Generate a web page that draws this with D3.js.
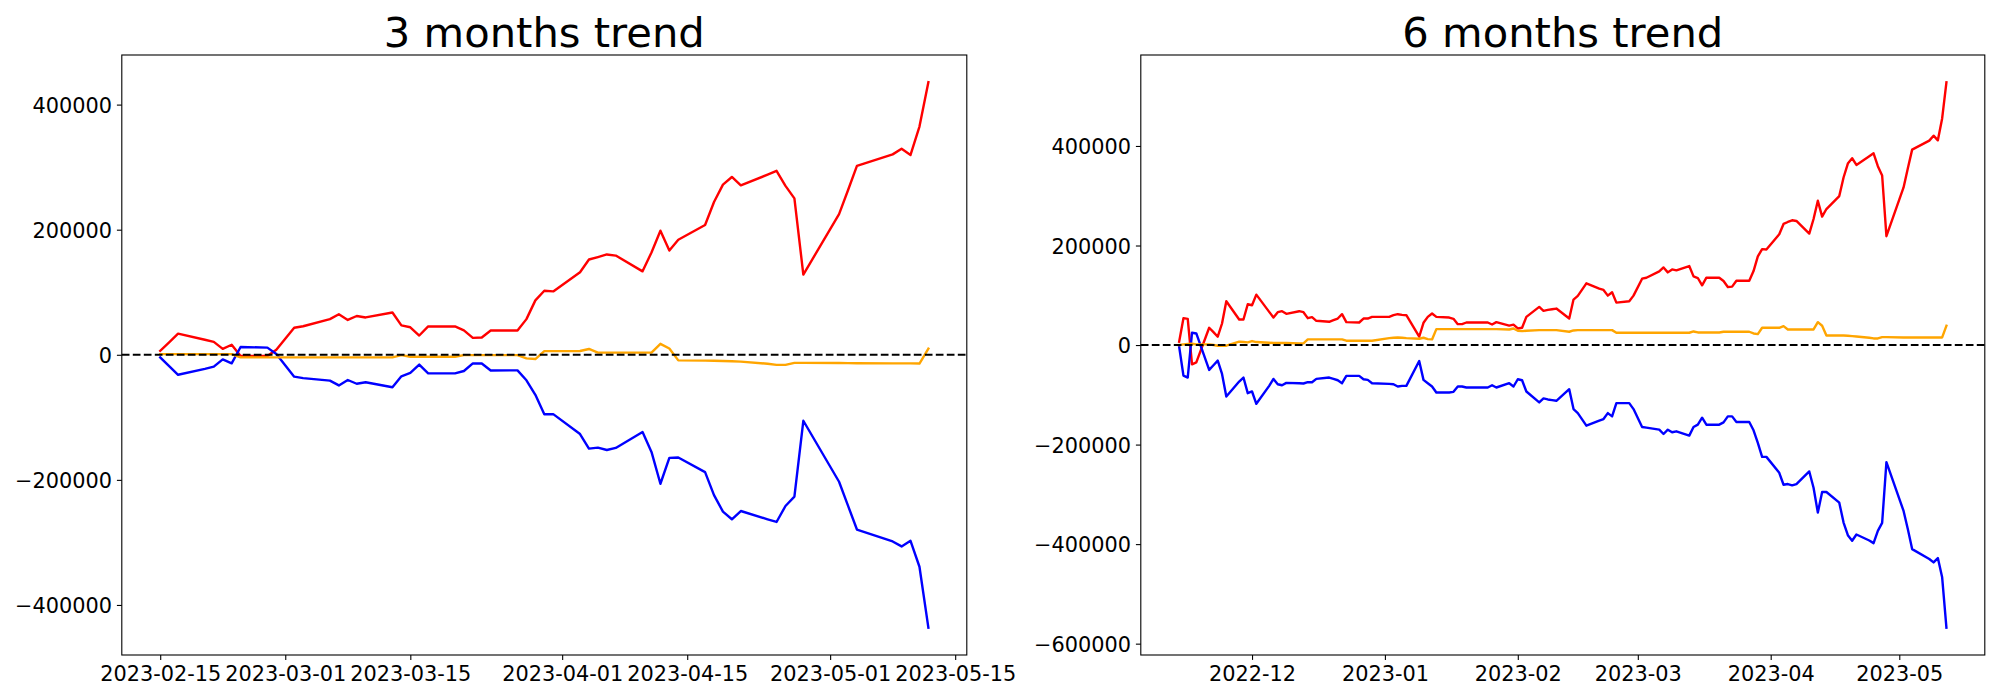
<!DOCTYPE html>
<html>
<head>
<meta charset="utf-8">
<script src="https://cdn.jsdelivr.net/npm/d3@7"></script>
<style>
  html, body { margin: 0; padding: 0; background: #ffffff; }
  svg { display: block; }
  text { font-family: "DejaVu Sans", sans-serif; fill: #000; }
</style>
</head>
<body>
<svg id="chart" width="2000" height="700"></svg>
<script>
// ---------------- 3 months data ----------------
const dates3m = ["2023-02-15","2023-02-16","2023-02-17","2023-02-20","2023-02-21","2023-02-22","2023-02-23","2023-02-24","2023-02-27","2023-02-28",
"2023-03-02","2023-03-03","2023-03-06","2023-03-07","2023-03-08","2023-03-09","2023-03-10","2023-03-13","2023-03-14","2023-03-15","2023-03-16","2023-03-17","2023-03-20","2023-03-21","2023-03-22","2023-03-23","2023-03-24","2023-03-27","2023-03-28","2023-03-29","2023-03-30","2023-03-31",
"2023-04-03","2023-04-04","2023-04-05","2023-04-06","2023-04-07","2023-04-10","2023-04-11","2023-04-12","2023-04-13","2023-04-14","2023-04-17","2023-04-18","2023-04-19","2023-04-20","2023-04-21","2023-04-24","2023-04-25","2023-04-26","2023-04-27","2023-04-28",
"2023-05-02","2023-05-03","2023-05-04","2023-05-08","2023-05-09","2023-05-10","2023-05-11","2023-05-12"];
const red3m = [6400,20000,33800,24000,20700,9500,16000,-2000,-2000,8000,
43300,45600,57000,64700,55700,62000,59700,67600,47000,44000,30800,45300,45300,39000,27000,27600,38800,38800,57000,87000,102300,101300,
132000,152300,156200,160400,158600,133400,163600,198400,166600,183800,207500,244300,272000,284300,270800,288000,294100,270000,250100,128200,
224900,263100,302000,320400,329300,319500,364900,435700];
const blue3m = [-4200,-18000,-32000,-22500,-19000,-7400,-13700,12500,11400,1100,
-35000,-37300,-41300,-49000,-40300,-46300,-44000,-51900,-34400,-29100,-15600,-29700,-29700,-25900,-13700,-14000,-25100,-24900,-40800,-64100,-95100,-94900,
-126700,-150000,-148500,-152200,-148900,-123500,-155300,-206200,-164800,-164300,-187700,-224300,-250800,-263000,-249800,-263000,-267300,-241800,-226900,-105500,
-203000,-241200,-279400,-298500,-306400,-297500,-338900,-436400];
const orange3m = [1100,1100,1100,1100,1100,1100,1100,-4200,-4200,-4200,
-4200,-4200,-4200,-4200,-4200,-4200,-4200,-4200,-500,-3200,-3200,-3200,-3200,-500,-500,-500,-500,-500,-5800,-6800,5900,5900,
6000,9300,3500,3500,3500,3500,3500,17500,10100,-8900,-9300,-9600,-10000,-10400,-11000,-14300,-16200,-16200,-12900,-12900,
-13200,-13400,-13500,-13700,-13700,-13700,-14000,9800];
const xTicks3m = ["2023-02-15","2023-03-01","2023-03-15","2023-04-01","2023-04-15","2023-05-01","2023-05-15"];
const yTicks3m = [-400000,-200000,0,200000,400000];

// ---------------- 6 months data ----------------
const dates6m = ["2022-11-14","2022-11-15","2022-11-16","2022-11-17","2022-11-18","2022-11-21","2022-11-22","2022-11-23","2022-11-24","2022-11-25","2022-11-28","2022-11-29","2022-11-30",
"2022-12-01","2022-12-02","2022-12-05","2022-12-06","2022-12-07","2022-12-08","2022-12-09","2022-12-12","2022-12-13","2022-12-14","2022-12-15","2022-12-16","2022-12-19","2022-12-20","2022-12-21","2022-12-22","2022-12-23","2022-12-26","2022-12-27","2022-12-28","2022-12-29",
"2023-01-02","2023-01-03","2023-01-04","2023-01-05","2023-01-06","2023-01-09","2023-01-10","2023-01-11","2023-01-12","2023-01-13","2023-01-16","2023-01-17","2023-01-18","2023-01-19","2023-01-20","2023-01-25","2023-01-26","2023-01-27","2023-01-30","2023-01-31",
"2023-02-01","2023-02-02","2023-02-03","2023-02-06","2023-02-07","2023-02-08","2023-02-09","2023-02-10","2023-02-13","2023-02-14","2023-02-15","2023-02-16","2023-02-17","2023-02-20","2023-02-21","2023-02-22","2023-02-23","2023-02-24","2023-02-27","2023-02-28",
"2023-03-02","2023-03-03","2023-03-06","2023-03-07","2023-03-08","2023-03-09","2023-03-10","2023-03-13","2023-03-14","2023-03-15","2023-03-16","2023-03-17","2023-03-20","2023-03-21","2023-03-22","2023-03-23","2023-03-24","2023-03-27","2023-03-28","2023-03-29","2023-03-30","2023-03-31",
"2023-04-03","2023-04-04","2023-04-05","2023-04-06","2023-04-07","2023-04-10","2023-04-11","2023-04-12","2023-04-13","2023-04-14","2023-04-17","2023-04-18","2023-04-19","2023-04-20","2023-04-21","2023-04-24","2023-04-25","2023-04-26","2023-04-27","2023-04-28",
"2023-05-02","2023-05-03","2023-05-04","2023-05-08","2023-05-09","2023-05-10","2023-05-11","2023-05-12"];
const red6m = [6700,54000,52700,-38700,-34700,34700,26000,16700,43300,88000,51300,51300,82000,
80000,101300,66700,55300,66000,68000,62700,68000,66000,54000,56000,48700,46700,50000,53300,62000,46000,45300,53300,53300,56700,
56700,60000,62000,60700,60000,16700,44700,56700,63300,56700,55300,52700,42000,42000,45300,45300,41300,46000,39000,41000,
33300,34700,56700,76700,68700,70700,72000,73300,53300,91300,98700,111300,124000,113300,110700,99300,106000,85300,88000,99300,
133300,135300,148000,156000,146000,152000,150000,158700,138000,134700,120000,135300,135300,128700,116700,117300,129300,129300,148700,178000,192700,192000,
222700,243300,247300,250700,249300,224000,253300,290000,258000,273300,299300,336700,364700,375300,362000,379300,385300,359300,340700,218700,
316700,355300,392700,410700,420700,411300,455300,528000];
const blue6m = [-3300,-61300,-65300,24700,23300,-50000,-40700,-31300,-58000,-103300,-73300,-65300,-96700,
-93300,-118000,-82000,-68000,-78700,-80700,-76000,-76700,-77300,-74700,-74700,-68000,-65300,-68000,-70700,-76700,-62000,-62000,-68700,-70000,-76700,
-78000,-78700,-83300,-82000,-82000,-32000,-70000,-76700,-83300,-95300,-95300,-94000,-83300,-83300,-85300,-85300,-80700,-85300,-76700,-83300,
-68700,-70700,-93300,-115300,-107300,-109300,-110700,-112000,-88700,-128700,-136700,-149300,-162000,-152000,-148700,-136700,-143300,-116700,-116700,-128700,
-164700,-166000,-170000,-178700,-170000,-175300,-173300,-182000,-164700,-160000,-146000,-160000,-160000,-155300,-143300,-143300,-154700,-154700,-171300,-196700,-224700,-224700,
-256700,-280700,-279300,-282000,-279300,-254000,-286700,-336700,-295300,-295300,-316700,-356700,-382000,-393300,-380700,-392700,-398000,-373300,-357300,-235300,
-333300,-370000,-410000,-430000,-436700,-428000,-466700,-568000];
const orange6m = [0,1300,2000,2700,1300,1300,0,-1300,-1300,-1300,6700,6000,5300,
8000,6000,4700,4000,4000,4000,4000,3300,3300,11300,11300,11300,11300,11300,11300,11300,8700,8700,8700,8700,8700,
14000,14700,15300,14700,14000,12700,14700,12000,11300,32000,32000,32000,32000,32000,32000,32000,32000,32000,31300,33300,
28700,28000,28700,30000,30000,30000,30000,30000,26700,29300,30000,30000,30000,30000,30000,30000,30000,24700,24700,24700,
24700,24700,24700,24700,24700,24700,24700,24700,27300,25300,25300,25300,25300,26700,26700,26700,26700,26700,23300,22000,34700,34700,
34700,38000,31300,31300,31300,31300,31300,46000,38700,19300,19300,19300,18700,18000,17300,14700,13300,13300,16000,16000,
15300,15300,15300,15300,15300,15300,15300,38700];
const xTicks6m = ["2022-12-01","2023-01-01","2023-02-01","2023-03-01","2023-04-01","2023-05-01"];
const yTicks6m = [-600000,-400000,-200000,0,200000,400000];

// ---------------- drawing ----------------
const parse = d3.timeParse("%Y-%m-%d");
const svg = d3.select("#chart");
svg.append("rect").attr("width", 2000).attr("height", 700).attr("fill", "#fff");

const FS_TICK = 20.83, FS_TITLE = 41.67, LW = 2.4, LW_ZERO = 2.08;

function padDomain(lo, hi) { const m = (hi - lo) * 0.05; return [lo - m, hi + m]; }

function drawPanel(cfg) {
  const dts = cfg.dates.map(parse);
  const t0 = d3.min(dts).getTime(), t1 = d3.max(dts).getTime();
  const xd = padDomain(t0, t1);
  const x = d3.scaleTime().domain([new Date(xd[0]), new Date(xd[1])]).range([cfg.left, cfg.right]);
  const all = cfg.series.flatMap(s => s.values);
  const y = d3.scaleLinear().domain(padDomain(d3.min(all), d3.max(all))).range([cfg.bottom, cfg.top]);

  const g = svg.append("g");

  cfg.series.forEach(s => {
    const line = d3.line().x((d, i) => x(dts[i])).y(d => y(d));
    g.append("path").datum(s.values).attr("d", line)
      .attr("fill", "none").attr("stroke", s.color).attr("stroke-width", LW)
      .attr("stroke-linejoin", "round").attr("stroke-linecap", "square");
  });

  // zero line
  g.append("line").attr("x1", cfg.left).attr("x2", cfg.right)
    .attr("y1", y(0)).attr("y2", y(0))
    .attr("stroke", "#000").attr("stroke-width", LW_ZERO).attr("stroke-dasharray", "7.7,3.3");

  // axes
  const yAxis = d3.axisLeft(y).tickValues(cfg.yTicks).tickSize(4.9).tickPadding(4.9).tickFormat(d3.format("d"));
  const ya = g.append("g").attr("transform", `translate(${cfg.left},0)`).call(yAxis);
  const xAxis = d3.axisBottom(x).tickValues(cfg.xTicks.map(parse)).tickSize(4.9).tickPadding(4.9).tickFormat(d3.timeFormat(cfg.xFmt));
  const xa = g.append("g").attr("transform", `translate(0,${cfg.bottom})`).call(xAxis);
  [ya, xa].forEach(a => {
    a.select(".domain").remove();
    a.selectAll(".tick line").attr("stroke", "#000").attr("stroke-width", 1.1);
    a.selectAll(".tick text").attr("font-family", "DejaVu Sans").attr("font-size", FS_TICK).attr("fill", "#000");
  });
  ya.selectAll(".tick text").attr("dy", "0.36em");
  xa.selectAll(".tick text").attr("dy", "0.8em");

  // spines
  g.append("rect").attr("x", cfg.left).attr("y", cfg.top)
    .attr("width", cfg.right - cfg.left).attr("height", cfg.bottom - cfg.top)
    .attr("fill", "none").attr("stroke", "#000").attr("stroke-width", 1.1);

  // title
  g.append("text").attr("x", (cfg.left + cfg.right) / 2).attr("y", cfg.top - 8.3)
    .attr("text-anchor", "middle").attr("font-size", FS_TITLE).attr("font-family", "DejaVu Sans")
    .text(cfg.title);
}

drawPanel({
  title: "3 months trend", left: 121.8, right: 966.8, top: 55, bottom: 655,
  dates: dates3m, xTicks: xTicks3m, yTicks: yTicks3m, xFmt: "%Y-%m-%d",
  series: [{values: red3m, color: "red"}, {values: blue3m, color: "blue"}, {values: orange3m, color: "orange"}]
});
drawPanel({
  title: "6 months trend", left: 1140.8, right: 1984.8, top: 55, bottom: 655,
  dates: dates6m, xTicks: xTicks6m, yTicks: yTicks6m, xFmt: "%Y-%m",
  series: [{values: red6m, color: "red"}, {values: blue6m, color: "blue"}, {values: orange6m, color: "orange"}]
});
</script>
</body>
</html>
